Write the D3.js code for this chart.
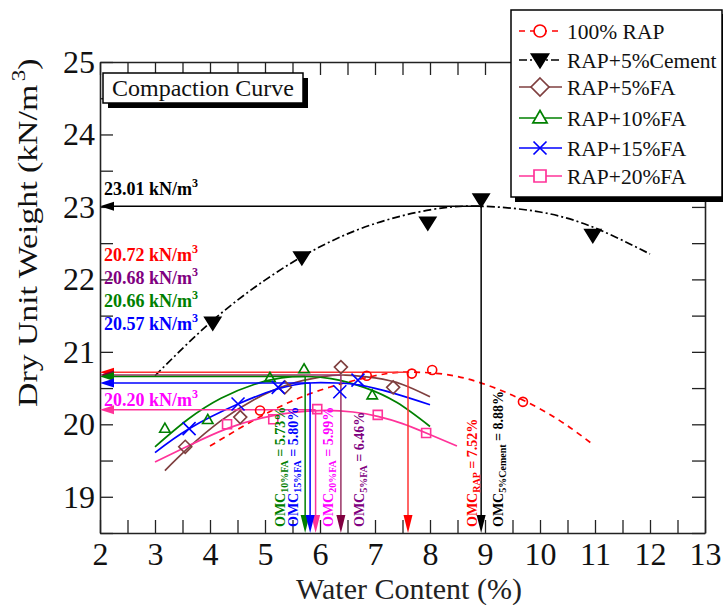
<!DOCTYPE html>
<html><head><meta charset="utf-8">
<script src="https://cdn.jsdelivr.net/npm/d3@7"></script>
<style>
body{margin:0;background:#fff}
svg{display:block}
svg text{font-family:"Liberation Serif","Times New Roman",Tinos,Times,"DejaVu Serif",serif !important}
</style>
</head><body>
<svg id="c" width="723" height="605"></svg>
<script>
// ---------------- DATA ----------------
const seriesNames = ["100% RAP","RAP+5%Cement","RAP+5%FA","RAP+10%FA","RAP+15%FA","RAP+20%FA"];
const seriesColors = ["#ff0000","#000000","#7f3f3f","#008000","#0000ff","#ff3399"];
const seriesMarkers = ["circle","tri-down","diamond","tri-up","x","square"];
const seriesDash = ["6,5","8,3,2,3",null,null,null,null];

// measured points
const rapX = [4.91, 6.85, 7.67, 8.04, 9.69];
const rapY = [20.19, 20.67, 20.70, 20.75, 20.31];
const cementX = [4.05, 5.67, 7.96, 8.93, 10.96];
const cementY = [21.40, 22.30, 22.78, 23.10, 22.61];
const fa5X = [3.55, 4.55, 5.36, 6.38, 7.33];
const fa5Y = [19.69, 20.10, 20.51, 20.79, 20.51];
const fa10X = [3.18, 3.96, 5.09, 5.71, 6.95];
const fa10Y = [19.94, 20.06, 20.64, 20.76, 20.40];
const fa15X = [3.62, 4.51, 5.24, 6.36, 6.69];
const fa15Y = [19.94, 20.28, 20.51, 20.45, 20.61];
const fa20X = [4.31, 5.15, 5.95, 7.05, 7.93];
const fa20Y = [20.00, 20.07, 20.21, 20.13, 19.88];

// fitted curves, points
const rapFitX = [4, 5, 6, 7, 7.6, 8.5, 9.5, 10.3, 10.93];
const rapFitY = [19.70, 20.14, 20.47, 20.67, 20.72, 20.66, 20.40, 20.08, 19.74];
const cementFitX = [3, 4, 5, 6, 7, 8, 8.88, 10, 11, 12];
const cementFitY = [20.67, 21.40, 21.99, 22.45, 22.77, 22.96, 23.01, 22.93, 22.71, 22.35];
const fa5FitX = [3.18, 3.6, 4.2, 4.8, 5.4, 6.0, 6.46, 7.0, 7.5, 8.0];
const fa5FitY = [19.36, 19.67, 20.05, 20.34, 20.54, 20.65, 20.68, 20.64, 20.55, 20.38];
const fa10FitX = [3.0, 3.6, 4.2, 4.8, 5.3, 5.73, 6.2, 6.8, 7.4, 8.0];
const fa10FitY = [19.69, 20.07, 20.36, 20.55, 20.64, 20.66, 20.63, 20.51, 20.30, 19.97];
const fa15FitX = [3.0, 3.62, 4.51, 5.24, 5.8, 6.3, 6.73, 7.33, 8.0];
const fa15FitY = [19.61, 19.94, 20.28, 20.49, 20.57, 20.57, 20.54, 20.43, 20.27];
const fa20FitX = [3.0, 3.6, 4.31, 5.15, 5.99, 6.6, 7.05, 7.5, 7.93, 8.49];
const fa20FitY = [19.48, 19.70, 19.94, 20.12, 20.19, 20.17, 20.11, 20.01, 19.88, 19.70];

// OMC / MDD annotations (order: cement, RAP, 5%FA, 10%FA, 15%FA, 20%FA)
const mddValues = [23.01, 20.72, 20.68, 20.66, 20.57, 20.20];
const mddLabels = ["23.01", "20.72", "20.68", "20.66", "20.57", "20.20"];
const omcArrowX = [8.93, 7.60, 6.38, 5.73, 5.82, 5.92];
const omcSubs = ["5%Cement", "RAP", "5%FA", "10%FA", "15%FA", "20%FA"];
const omcValues = ["8.88%", "7.52%", "6.46%", "5.73%", "5.80%", "5.99%"];
const annTextColors = ["#000000", "#ff0000", "#800080", "#008000", "#0000ff", "#ff00ff"];
const annLineColors = ["#000000", "#ff3333", "#993366", "#008000", "#0000ff", "#ff3399"];
const annHeadColors = ["#000000", "#ff0000", "#800040", "#008000", "#0000ff", "#ff3399"];

const xTickLabels = ["2","3","4","5","6","7","8","9","10","11","12","13"];
const yTickLabels = ["19","20","21","22","23","24","25"];

// ---------------- LAYOUT ----------------
const svg = d3.select("#c");
const x = d3.scaleLinear().domain([2, 13]).range([100, 705]);
const y = d3.scaleLinear().domain([18.5, 25]).range([533, 62]);
const FONT = "Liberation Serif, Times New Roman, Tinos, Times, DejaVu Serif, serif";

const series = [
  {X: rapX, Y: rapY, FX: rapFitX, FY: rapFitY},
  {X: cementX, Y: cementY, FX: cementFitX, FY: cementFitY},
  {X: fa5X, Y: fa5Y, FX: fa5FitX, FY: fa5FitY},
  {X: fa10X, Y: fa10Y, FX: fa10FitX, FY: fa10FitY},
  {X: fa15X, Y: fa15Y, FX: fa15FitX, FY: fa15FitY},
  {X: fa20X, Y: fa20Y, FX: fa20FitX, FY: fa20FitY}
];

function markerPath(type, s) {
  switch (type) {
    case "circle": return d3.symbol(d3.symbolCircle, Math.PI * s * s)();
    case "tri-down": return `M${-s},${-s*0.7}L${s},${-s*0.7}L0,${s*0.9}Z`;
    case "diamond": return `M0,${-s}L${s},0L0,${s}L${-s},0Z`;
    case "tri-up": return `M0,${-s}L${s*0.95},${s*0.65}L${-s*0.95},${s*0.65}Z`;
    case "x": return `M${-s},${-s}L${s},${s}M${-s},${s}L${s},${-s}`;
    case "square": return `M${-s},${-s}H${s}V${s}H${-s}Z`;
  }
}
const plotMarkerSize = [4.5, 8, 6.5, 5.5, 6.5, 4.5];
const legendMarkerSize = [6, 8.5, 9, 7.5, 6.5, 6];

// ---------------- AXES ----------------
const minorX = d3.range(2, 13.001, 0.5);
const minorY = d3.range(18.5, 25.001, 0.5);

const gB = svg.append("g").attr("transform", "translate(0,533)")
  .call(d3.axisBottom(x).tickValues(minorX).tickSize(-13).tickSizeOuter(0).tickPadding(9)
    .tickFormat(d => Number.isInteger(d) ? xTickLabels[d - 2] : ""));
const gT = svg.append("g").attr("transform", "translate(0,62)")
  .call(d3.axisTop(x).tickValues(minorX).tickSize(-13).tickSizeOuter(0).tickFormat(""));
const gL = svg.append("g").attr("transform", "translate(100,0)")
  .call(d3.axisLeft(y).tickValues(minorY).tickSize(-13).tickSizeOuter(0).tickPadding(5)
    .tickFormat(d => (Number.isInteger(d) && d >= 19) ? yTickLabels[d - 19] : ""));
const gR = svg.append("g").attr("transform", "translate(705,0)")
  .call(d3.axisRight(y).tickValues(minorY).tickSize(-13).tickSizeOuter(0).tickFormat(""));

[gB, gT, gL, gR].forEach(g => {
  g.attr("font-family", FONT);
  g.select(".domain").attr("stroke", "#222").attr("stroke-width", 1.6);
  g.selectAll(".tick line").attr("stroke", "#222").attr("stroke-width", 1.3);
  g.selectAll("text").attr("font-family", FONT).attr("font-size", 32).attr("fill", "#111");
});

// axis titles
svg.append("text").attr("x", 409).attr("y", 599).attr("text-anchor", "middle")
  .attr("font-family", FONT).attr("font-size", 30).attr("fill", "#222").text("Water Content (%)");

const yt = svg.append("text").attr("transform", "translate(37,407) rotate(-90)")
  .attr("font-family", FONT).attr("font-size", 28).attr("fill", "#111");
yt.append("tspan").text("Dry Unit Weight (kN/m");
yt.append("tspan").attr("font-size", 19).attr("dy", -12).attr("dx", 3).text("3");
yt.append("tspan").attr("dy", 12).text(")");
(function(){
  const len = yt.node().getComputedTextLength();
  const k = 345 / len;
  yt.attr("transform", `translate(37,407) rotate(-90) scale(${k},1)`);
})();

// ---------------- FITTED CURVES ----------------
const line = d3.line().x(d => x(d[0])).y(d => y(d[1])).curve(d3.curveNatural);
series.forEach((s, i) => {
  const pts = s.FX.map((v, j) => [v, s.FY[j]]);
  svg.append("path").attr("d", line(pts)).attr("fill", "none")
    .attr("stroke", seriesColors[i]).attr("stroke-width", 1.7)
    .attr("stroke-dasharray", seriesDash[i]);
});

// ---------------- OMC / MDD ARROWS ----------------
const drawOrder = [0, 5, 1, 2, 3, 4];
drawOrder.forEach(i => {
  const xv = x(omcArrowX[i]), yv = y(mddValues[i]);
  svg.append("line").attr("x1", xv).attr("x2", 100 + 12).attr("y1", yv).attr("y2", yv)
    .attr("stroke", annLineColors[i]).attr("stroke-width", 1.5);
  svg.append("path").attr("d", `M100,${yv}L114,${yv - 4.5}L114,${yv + 4.5}Z`).attr("fill", annHeadColors[i]);
  svg.append("line").attr("x1", xv).attr("x2", xv).attr("y1", yv).attr("y2", 533 - 16)
    .attr("stroke", annLineColors[i]).attr("stroke-width", 1.5);
  svg.append("path").attr("d", `M${xv},533L${xv - 4.5},515L${xv + 4.5},515Z`).attr("fill", annHeadColors[i]);
});

// ---------------- MARKERS ----------------
series.forEach((s, i) => {
  const g = svg.append("g");
  s.X.forEach((v, j) => {
    const filled = seriesMarkers[i] === "tri-down";
    g.append("path").attr("d", markerPath(seriesMarkers[i], plotMarkerSize[i]))
      .attr("transform", `translate(${x(v)},${y(s.Y[j])})`)
      .attr("fill", filled ? seriesColors[i] : "none")
      .attr("stroke", seriesColors[i]).attr("stroke-width", 1.6);
  });
});

// ---------------- LEFT MDD LABELS ----------------
const mddBaselines = [195, 261, 284, 307, 330, 406];
mddLabels.forEach((lab, i) => {
  const t = svg.append("text").attr("x", 104).attr("y", mddBaselines[i])
    .attr("font-family", FONT).attr("font-size", 18).attr("font-weight", "bold").attr("fill", annTextColors[i]);
  t.append("tspan").text(lab + " kN/m");
  t.append("tspan").attr("font-size", 12).attr("dy", -8).text("3");
});

// ---------------- OMC VERTICAL LABELS ----------------
const omcBaseX = [503, 477, 364, 285, 298, 333];
omcSubs.forEach((sub, i) => {
  const t = svg.append("text").attr("transform", `translate(${omcBaseX[i]},527) rotate(-90)`)
    .attr("font-family", FONT).attr("font-size", 14).attr("font-weight", "bold").attr("fill", annTextColors[i]);
  t.append("tspan").text("OMC");
  t.append("tspan").attr("font-size", 10).attr("dy", 2.5).text(sub);
  t.append("tspan").attr("dy", -2.5).text(" = " + omcValues[i]);
});

// ---------------- COMPACTION CURVE BOX ----------------
svg.append("rect").attr("x", 108).attr("y", 78).attr("width", 200).attr("height", 30).attr("fill", "#000");
svg.append("rect").attr("x", 103).attr("y", 73).attr("width", 200).attr("height", 30)
  .attr("fill", "#fff").attr("stroke", "#000").attr("stroke-width", 1.5);
svg.append("text").attr("x", 112).attr("y", 96).attr("font-family", FONT).attr("font-size", 24)
  .attr("fill", "#111").text("Compaction Curve");

// ---------------- LEGEND ----------------
svg.append("rect").attr("x", 515).attr("y", 14).attr("width", 212).attr("height", 188).attr("fill", "#000");
svg.append("rect").attr("x", 511).attr("y", 10).attr("width", 211).attr("height", 187)
  .attr("fill", "#fff").attr("stroke", "#000").attr("stroke-width", 1.5);
const legendRows = [31, 60, 87, 118, 148, 176];
seriesNames.forEach((name, i) => {
  const ry = legendRows[i];
  svg.append("line").attr("x1", 519).attr("x2", 562).attr("y1", ry).attr("y2", ry)
    .attr("stroke", seriesColors[i]).attr("stroke-width", 1.7)
    .attr("stroke-dasharray", seriesDash[i]);
  const filled = seriesMarkers[i] === "tri-down";
  svg.append("path").attr("d", markerPath(seriesMarkers[i], legendMarkerSize[i]))
    .attr("transform", `translate(540,${ry})`)
    .attr("fill", filled ? seriesColors[i] : "#fff")
    .attr("stroke", seriesColors[i]).attr("stroke-width", 1.7);
  svg.append("text").attr("x", 567).attr("y", ry + 8).attr("font-family", FONT).attr("font-size", 21.5)
    .attr("fill", "#111").text(name);
});
</script>
</body></html>
